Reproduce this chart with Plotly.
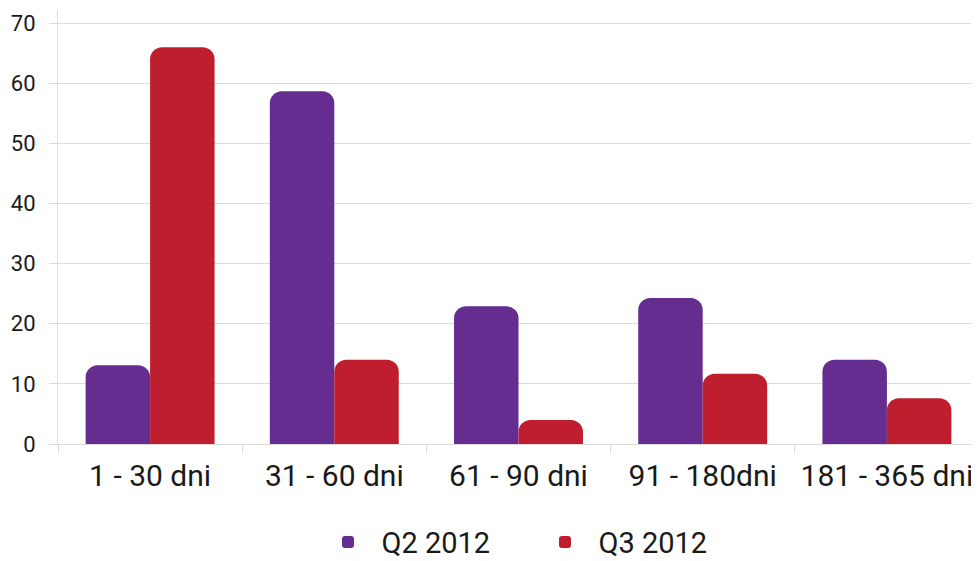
import plotly.graph_objects as go

categories = ["1 - 30 dni", "31 - 60 dni", "61 - 90 dni", "91 - 180dni", "181 - 365 dni"]
q2_2012 = [13.1, 58.7, 22.9, 24.3, 14.0]
q3_2012 = [66.0, 14.0, 4.0, 11.7, 7.6]
series_names = ["Q2 2012", "Q3 2012"]
y_ticks = [0, 10, 20, 30, 40, 50, 60, 70]

PURPLE = "#652D90"
RED = "#BE1E2D"
GRID = "#DCDCDC"
TEXT = "#1a1a1a"

fig = go.Figure()
fig.add_trace(go.Bar(x=categories, y=q2_2012, name=series_names[0], marker_color=PURPLE,
                     marker_line_width=0))
fig.add_trace(go.Bar(x=categories, y=q3_2012, name=series_names[1], marker_color=RED,
                     marker_line_width=0))

# page body has an 8px margin, so the figure is sized/offset to compensate
fig.update_layout(
    width=971, height=570,
    margin=dict(l=50, r=0, t=2, b=134),
    paper_bgcolor="white", plot_bgcolor="white",
    barmode="group", bargap=0.3, bargroupgap=0, barcornerradius=12,
    font=dict(family="Roboto, Arial, sans-serif", color=TEXT),
    showlegend=True,
    legend=dict(orientation="h", x=0.5141, xanchor="center", y=-0.226, yanchor="middle",
                font=dict(size=29, color=TEXT), entrywidth=145, itemwidth=57),
    xaxis=dict(showgrid=False, showline=True, linecolor=GRID, linewidth=1,
               ticks="outside", tickson="boundaries", ticklen=8, tickcolor=GRID,
               ticklabelstandoff=5,
               tickfont=dict(size=30, color=TEXT), automargin=False, fixedrange=True),
    yaxis=dict(range=[0, 72.2], tickvals=y_ticks, showgrid=True, gridcolor=GRID,
               gridwidth=1, zeroline=False, showline=True, linecolor=GRID,
               ticks="outside", ticklen=8, tickcolor=GRID, ticklabelstandoff=9,
               tickfont=dict(size=22, color=TEXT), automargin=False, fixedrange=True),
)

fig.write_html("out.html")
